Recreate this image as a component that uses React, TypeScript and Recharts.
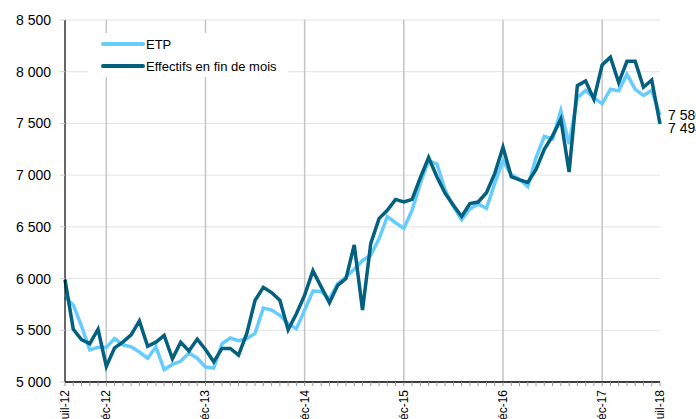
import React from "react";
import {
  LineChart,
  Line,
  XAxis,
  YAxis,
  CartesianGrid,
  Legend,
  LabelList,
  ReferenceLine,
} from "recharts";

const monthNames = ["janv", "févr", "mars", "avr", "mai", "juin", "juil", "août", "sept", "oct", "nov", "déc"];

// juil-12 .. juil-18, 73 months
const months: string[] = [];
for (let k = 0; k < 73; k++) {
  const m = (6 + k) % 12;
  const y = 12 + Math.floor((6 + k) / 12);
  months.push(`${monthNames[m]}-${y}`);
}

const shownLabels = ["juil-12", "déc-12", "déc-13", "déc-14", "déc-15", "déc-16", "déc-17", "juil-18"];
const gridMonths = ["déc-12", "déc-13", "déc-14", "déc-15", "déc-16", "déc-17"];

const etp = [
  5820, 5745, 5540, 5310, 5335, 5335, 5420, 5360, 5340, 5290, 5230, 5340,
  5120, 5170, 5200, 5280, 5230, 5145, 5135, 5370, 5425, 5400, 5420, 5470,
  5715, 5695, 5645, 5565, 5515, 5695, 5880, 5875, 5805, 5950, 6015, 6090,
  6175, 6225, 6385, 6600, 6540, 6485, 6660, 6920, 7140, 7110, 6855, 6695,
  6570, 6675, 6720, 6680, 6920, 7140, 7005, 6960, 6890, 7170, 7375, 7350,
  7625, 7300, 7750, 7820, 7750, 7690, 7830, 7815, 7975, 7830, 7770, 7820,
  7580,
];

const effectifs = [
  5990, 5510, 5410, 5370, 5510, 5150, 5330, 5385, 5455, 5590, 5345, 5385,
  5450, 5225, 5385, 5300, 5415, 5315, 5195, 5325, 5325, 5260, 5470, 5790,
  5915, 5865, 5790, 5505, 5660, 5840, 6075, 5920, 5765, 5935, 6000, 6325,
  5695, 6340, 6580, 6660, 6765, 6740, 6765, 6975, 7170, 6985, 6825, 6710,
  6600, 6725, 6740, 6830, 7015, 7270, 6985, 6955, 6930, 7055, 7250, 7380,
  7540, 7030, 7865, 7910, 7735, 8065, 8140, 7895, 8100, 8100, 7850, 7920,
  7494,
];

const yTicks = [5000, 5500, 6000, 6500, 7000, 7500, 8000, 8500];

const data = months.map((m, i) => ({ i, month: m, etp: etp[i], eff: effectifs[i] }));

const FONT = "'Liberation Sans', Arial, sans-serif";
const LIGHT = "#66ccff";
const DARK = "#03617f";

const fmt = (v: number) => {
  const s = String(Math.round(v));
  return s.length > 3 ? `${s.slice(0, -3)} ${s.slice(-3)}` : s;
};

function MonthTick(props: any) {
  const { x, y, payload } = props;
  const label = months[payload.value];
  if (!shownLabels.includes(label)) return null;
  return (
    <text
      x={x}
      y={y}
      transform={`rotate(-90 ${x} ${y})`}
      textAnchor="end"
      dominantBaseline="central"
      fontSize={12}
      fontFamily={FONT}
      fill="#000"
    >
      {label}
    </text>
  );
}

function EndLabel(props: any) {
  const { x, y, value, index, dy } = props;
  if (index !== data.length - 1) return null;
  return (
    <text
      x={x + 8}
      y={y + (dy || 0)}
      dominantBaseline="central"
      fontSize={14}
      fontFamily={FONT}
      fill="#000"
    >
      {fmt(value)}
    </text>
  );
}

function LegendBox() {
  const items = [
    { name: "ETP", color: LIGHT },
    { name: "Effectifs en fin de mois", color: DARK },
  ];
  return (
    <div style={{ background: "#fff", width: 200, fontFamily: FONT, fontSize: 13 }}>
      {items.map((it) => (
        <div key={it.name} style={{ height: 22, display: "flex", alignItems: "center" }}>
          <svg width={44} height={6} style={{ marginLeft: 13 }}>
            <line x1={2} y1={3} x2={42} y2={3} stroke={it.color} strokeWidth={4} strokeLinecap="round" />
          </svg>
          <span style={{ marginLeft: 1, color: "#000" }}>{it.name}</span>
        </div>
      ))}
    </div>
  );
}

export default function App() {
  const decIdx = gridMonths.map((m) => months.indexOf(m));
  return (
    <div style={{ position: "absolute", left: 0, top: 0, width: 696, height: 419, background: "#fff" }}>
      <LineChart
        width={696}
        height={419}
        data={data}
        margin={{ top: 20, right: 36, bottom: 0, left: 0 }}
      >
        <CartesianGrid vertical={false} stroke="#e3e3e3" strokeWidth={1} />
        {decIdx.map((i) => (
          <ReferenceLine key={i} x={i} stroke="#c4c4c4" strokeWidth={1.5} />
        ))}
        <XAxis
          dataKey="i"
          type="number"
          domain={[0, 72]}
          ticks={data.map((d) => d.i)}
          interval={0}
          height={37}
          tick={<MonthTick />}
          tickSize={4}
          tickMargin={4}
          tickLine={{ stroke: "#999" }}
          axisLine={{ stroke: "#000", strokeWidth: 1.5 }}
        />
        <YAxis
          type="number"
          domain={[5000, 8500]}
          ticks={yTicks}
          width={65}
          tickSize={5}
          tickMargin={9}
          tickFormatter={fmt}
          tick={{ fontSize: 14, fontFamily: FONT, fill: "#000" }}
          tickLine={{ stroke: "#d0d0d0" }}
          axisLine={{ stroke: "#000", strokeWidth: 1.2 }}
        />
        <Legend
          layout="vertical"
          verticalAlign="middle"
          align="center"
          wrapperStyle={{ left: 88, top: 33, width: 200 }}
          content={<LegendBox />}
        />
        <Line
          type="linear"
          dataKey="etp"
          name="ETP"
          stroke={LIGHT}
          strokeWidth={3.5}
          dot={false}
          isAnimationActive={false}
        >
          <LabelList dataKey="etp" content={<EndLabel dy={0} />} />
        </Line>
        <Line
          type="linear"
          dataKey="eff"
          name="Effectifs en fin de mois"
          stroke={DARK}
          strokeWidth={3.5}
          dot={false}
          isAnimationActive={false}
        >
          <LabelList dataKey="eff" content={<EndLabel dy={4} />} />
        </Line>
      </LineChart>
    </div>
  );
}
